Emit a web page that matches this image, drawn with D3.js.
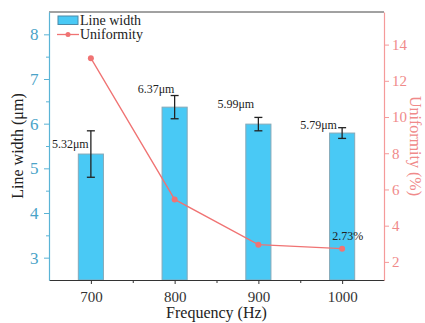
<!DOCTYPE html>
<html>
<head>
<meta charset="utf-8">
<script src="https://cdn.jsdelivr.net/npm/d3@7"></script>
<style>
  html, body { margin: 0; padding: 0; background: #fff; }
  svg { display: block; }
  svg text { font-family: "Liberation Serif", "DejaVu Serif", serif !important; }
</style>
</head>
<body>
<svg id="chart" width="425" height="323"></svg>
<script>
// Frequency sweep: measured line width (bars with error) and uniformity (line)
const frequencies = [700, 800, 900, 1000];
const lineWidth = [5.32, 6.37, 5.99, 5.79];
const lineWidthErr = [0.52, 0.26, 0.15, 0.12];
const uniformity = [13.25, 5.45, 2.95, 2.73];
const widthTicks = [3, 4, 5, 6, 7, 8];
const uniformityTicks = [2, 4, 6, 8, 10, 12, 14];
const freqTicks = [700, 800, 900, 1000];

const SERIF = "'Liberation Serif', 'DejaVu Serif', serif";
const svg = d3.select("#chart").attr("font-family", SERIF);
const m = { left: 49, right: 384, top: 12, bottom: 280 };

const x = d3.scaleLinear().domain([650, 1050]).range([m.left, m.right]);
const yL = d3.scaleLinear().domain([2.5, 8.5]).range([m.bottom, m.top]);
const yR = d3.scaleLinear().domain([1, 15.8]).range([m.bottom, m.top]);

const blueAxis = "#5ab4d6", blueText = "#4aa3c8";
const redAxis = "#f59a9a", redText = "#f08a8a";
const barFill = "#49c9f5", barStroke = "#86a9b8";
const lineCol = "#f07373";

// top frame
svg.append("line").attr("x1", m.left).attr("x2", m.right)
  .attr("y1", m.top).attr("y2", m.top).attr("stroke", "#444").attr("stroke-width", 1);

// bars
const barW = x(715) - x(700);
svg.append("g").selectAll("rect").data(frequencies).join("rect")
  .attr("x", d => x(d) - barW)
  .attr("width", barW * 2)
  .attr("y", (d, i) => yL(lineWidth[i]))
  .attr("height", (d, i) => yL(2.5) - yL(lineWidth[i]))
  .attr("fill", barFill).attr("stroke", barStroke).attr("stroke-width", 1);

// error bars
const eg = svg.append("g").attr("stroke", "#222").attr("stroke-width", 1.3);
frequencies.forEach((f, i) => {
  const hi = yL(lineWidth[i] + lineWidthErr[i]), lo = yL(lineWidth[i] - lineWidthErr[i]);
  eg.append("line").attr("x1", x(f)).attr("x2", x(f)).attr("y1", hi).attr("y2", lo);
  eg.append("line").attr("x1", x(f) - 4).attr("x2", x(f) + 4).attr("y1", hi).attr("y2", hi);
  eg.append("line").attr("x1", x(f) - 4).attr("x2", x(f) + 4).attr("y1", lo).attr("y2", lo);
});

// bar value labels
const labelDx = [-39, -37, -41, -42];
const labelDy = [-6, -14, -16, -4];
svg.append("g").selectAll("text").data(frequencies).join("text")
  .attr("x", (d, i) => x(d) + labelDx[i])
  .attr("y", (d, i) => yL(lineWidth[i]) + labelDy[i])
  .attr("font-size", 12).attr("fill", "#222")
  .text((d, i) => lineWidth[i].toFixed(2) + "μm");

// uniformity line
svg.append("path")
  .datum(frequencies)
  .attr("fill", "none").attr("stroke", lineCol).attr("stroke-width", 1.3)
  .attr("d", d3.line().x(d => x(d)).y((d, i) => yR(uniformity[i])));
svg.append("g").selectAll("circle").data(frequencies).join("circle")
  .attr("cx", d => x(d)).attr("cy", (d, i) => yR(uniformity[i]))
  .attr("r", 3).attr("fill", lineCol);
svg.append("text")
  .attr("x", x(1000) - 10).attr("y", yR(uniformity[3]) - 9)
  .attr("font-size", 12).attr("fill", "#222")
  .text(uniformity[3].toFixed(2) + "%");

// bottom axis
const xAxis = svg.append("g").attr("transform", `translate(0,${m.bottom})`)
  .call(d3.axisBottom(x).tickValues(freqTicks).tickFormat(d3.format("d")).tickSize(4).tickSizeOuter(0));
xAxis.attr("font-family", SERIF);
xAxis.select(".domain").attr("stroke", "#333").attr("stroke-width", 1.2);
xAxis.selectAll(".tick line").attr("stroke", "#333");
xAxis.selectAll("text").attr("font-size", 15).attr("fill", "#333").attr("dy", "1.0em");
svg.append("g").attr("transform", `translate(0,${m.bottom})`)
  .call(d3.axisBottom(x).tickValues([750, 850, 950]).tickFormat("").tickSize(3).tickSizeOuter(0))
  .call(g => g.select(".domain").remove())
  .selectAll("line").attr("stroke", "#333");

// left axis
const lAxis = svg.append("g").attr("transform", `translate(${m.left},0)`)
  .call(d3.axisLeft(yL).tickValues(widthTicks).tickFormat(d3.format("d")).tickSize(5).tickSizeOuter(0));
lAxis.attr("font-family", SERIF);
lAxis.select(".domain").attr("stroke", blueAxis).attr("stroke-width", 1.2);
lAxis.selectAll(".tick line").attr("stroke", blueAxis);
lAxis.selectAll("text").attr("font-size", 17).attr("fill", blueText).attr("dx", "-0.15em");
svg.append("g").attr("transform", `translate(${m.left},0)`)
  .call(d3.axisLeft(yL).tickValues([3.5, 4.5, 5.5, 6.5, 7.5]).tickFormat("").tickSize(3).tickSizeOuter(0))
  .call(g => g.select(".domain").remove())
  .selectAll("line").attr("stroke", blueAxis);

// right axis
const rAxis = svg.append("g").attr("transform", `translate(${m.right},0)`)
  .call(d3.axisRight(yR).tickValues(uniformityTicks).tickFormat(d3.format("d")).tickSize(5).tickSizeOuter(0));
rAxis.attr("font-family", SERIF);
rAxis.select(".domain").attr("stroke", redAxis).attr("stroke-width", 1.2);
rAxis.selectAll(".tick line").attr("stroke", redAxis);
rAxis.selectAll("text").attr("font-size", 15).attr("fill", redText);

// axis titles
svg.append("text").attr("transform", `translate(23,${(m.top + m.bottom) / 2}) rotate(-90)`)
  .attr("text-anchor", "middle").attr("font-size", 16).attr("fill", "#222")
  .text("Line width (μm)");
svg.append("text").attr("x", (m.left + m.right) / 2).attr("y", 318)
  .attr("text-anchor", "middle").attr("font-size", 16).attr("fill", "#222")
  .text("Frequency (Hz)");
svg.append("text").attr("transform", `translate(410,${(m.top + m.bottom) / 2}) rotate(90)`)
  .attr("text-anchor", "middle").attr("font-size", 16).attr("fill", redText)
  .text("Uniformity (%)");

// legend
const lg = svg.append("g");
lg.append("rect").attr("x", 58).attr("y", 16).attr("width", 20).attr("height", 8.5)
  .attr("fill", barFill).attr("stroke", "#4a8aa8").attr("stroke-width", 1);
lg.append("text").attr("x", 80).attr("y", 24.5).attr("font-size", 14).attr("fill", "#222").text("Line width");
lg.append("line").attr("x1", 57).attr("x2", 79).attr("y1", 34.5).attr("y2", 34.5)
  .attr("stroke", lineCol).attr("stroke-width", 1.3);
lg.append("circle").attr("cx", 68).attr("cy", 34.5).attr("r", 2.5).attr("fill", lineCol);
lg.append("text").attr("x", 80).attr("y", 39).attr("font-size", 14).attr("fill", "#222").text("Uniformity");
</script>
</body>
</html>
